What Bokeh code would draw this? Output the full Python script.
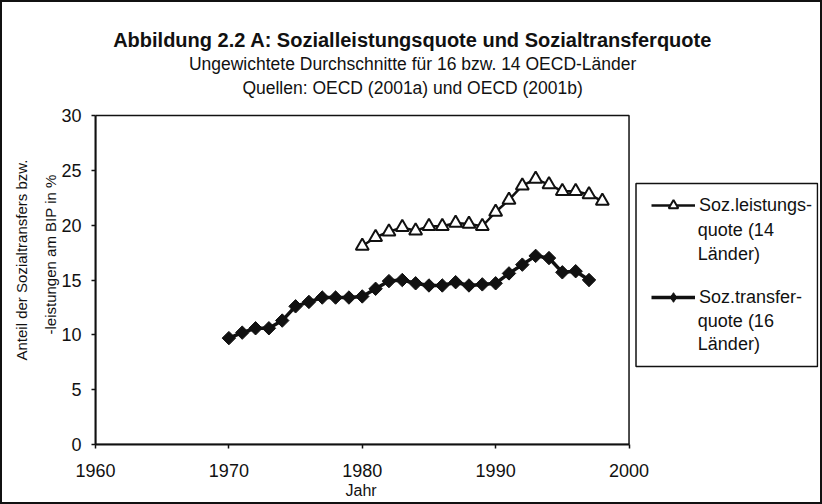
import math
from bokeh.plotting import figure
from bokeh.models import (Legend, LegendItem, Label, FixedTicker, Range1d,
                          BoxAnnotation, Title)
from bokeh.embed import file_html
from bokeh.resources import INLINE

# ---- data ----
years_leistung = list(range(1980, 1999))
leistungsquote = [18.1, 18.9, 19.4, 19.8, 19.5, 19.9, 19.9, 20.2, 20.1, 19.9,
                  21.2, 22.3, 23.6, 24.2, 23.7, 23.1, 23.1, 22.8, 22.2]
years_transfer = list(range(1970, 1998))
transferquote = [9.7, 10.2, 10.6, 10.6, 11.3, 12.6, 13.0, 13.4, 13.4, 13.4,
                 13.5, 14.2, 14.9, 15.0, 14.7, 14.5, 14.5, 14.8, 14.5, 14.6,
                 14.7, 15.6, 16.4, 17.2, 17.0, 15.7, 15.8, 15.0]
x_ticks = [1960, 1970, 1980, 1990, 2000]
y_ticks = [0, 5, 10, 15, 20, 25, 30]
x_min, x_max = 1960, 2000
y_min, y_max = 0, 30

title_text = "Abbildung 2.2 A: Sozialleistungsquote und Sozialtransferquote"
subtitle_1 = "Ungewichtete Durchschnitte für 16 bzw. 14 OECD-Länder"
subtitle_2 = "Quellen: OECD (2001a) und OECD (2001b)"
x_label = "Jahr"
y_label_lines = ["Anteil der Sozialtransfers bzw.", "-leistungen am BIP in %"]
legend_leistung = ["Soz.leistungs-", "quote (14", "Länder)"]
legend_transfer = ["Soz.transfer-", "quote  (16", "Länder)"]

FONT = "Liberation Sans"
INK = "#111111"

# ---- layout (canvas pixels) ----
W, H = 822, 504
PL, PR, PT, PB = 93, 628, 115, 444      # plot area (axes box)
FR, FT = 818, 4                         # frame extends right/up for legend & titles
px_per_x = (PR - PL) / (x_max - x_min)
px_per_y = (PB - PT) / (y_max - y_min)


def X(px):
    return x_min + (px - PL) / px_per_x


def Y(py):
    return y_min + (PB - py) / px_per_y


p = figure(width=W, height=H, output_backend="svg", toolbar_location=None,
           x_range=Range1d(x_min, X(FR)), y_range=Range1d(y_min, Y(FT)),
           min_border_left=PL, min_border_right=W - FR,
           min_border_top=FT, min_border_bottom=H - PB)
p.border_fill_alpha = 0
p.background_fill_color = "white"
p.stylesheets = [":host { box-shadow: inset 0 0 0 2px #111; background: white; }"]
p.grid.visible = False
p.outline_line_color = None

for ax in (p.xaxis[0], p.yaxis[0]):
    ax.axis_line_color = INK
    ax.axis_line_width = 2
    ax.major_tick_line_color = INK
    ax.major_tick_line_width = 1.5
    ax.major_tick_in = 0
    ax.major_tick_out = 4
    ax.minor_tick_line_color = None
    ax.major_label_text_font = FONT
    ax.major_label_text_font_size = "18px"
    ax.major_label_text_color = INK

p.xaxis.bounds = (x_min, x_max)
p.yaxis.bounds = (y_min, y_max)
p.xaxis.ticker = FixedTicker(ticks=x_ticks)
p.yaxis.ticker = FixedTicker(ticks=y_ticks)
p.xaxis.major_label_standoff = 15
p.yaxis.major_label_standoff = 10

# axis titles as side-panel titles so they can sit beside the 0-30 / 1960-2000 span
p.add_layout(Title(text=y_label_lines[1], align="left", offset=PB - 334,
                   vertical_align="middle",
                   text_font=FONT, text_font_size="15px", text_font_style="normal",
                   text_color=INK, standoff=-3), "left")
p.add_layout(Title(text=y_label_lines[0], align="left", offset=PB - 360,
                   vertical_align="middle",
                   text_font=FONT, text_font_size="15px", text_font_style="normal",
                   text_color=INK, standoff=23), "left")
p.add_layout(Title(text=x_label, align="left", offset=343 - PL,
                   text_font=FONT, text_font_size="16px", text_font_style="normal",
                   text_color=INK, standoff=0), "below")

# plot-area box (top and right edges of the axes rectangle)
p.add_layout(BoxAnnotation(left=x_min, right=x_max, bottom=y_min, top=y_max,
                           fill_alpha=0, line_color=INK, line_alpha=1,
                           line_width=1.5))

r1l = p.line(years_leistung, leistungsquote, line_color=INK, line_width=2.5)
r1m = p.scatter(years_leistung, leistungsquote, marker="triangle", size=13,
                fill_color="white", line_color=INK, line_width=2)
r2l = p.line(years_transfer, transferquote, line_color=INK, line_width=3.5)
r2m = p.scatter(years_transfer, transferquote, marker="square", size=9.5,
                angle=math.pi / 4, fill_color=INK, line_color=INK, line_width=1)
# legend key shape for the diamond series (a single NaN point: draws nothing)
r2k = p.scatter([float("nan")], [float("nan")], marker="diamond", size=14,
                fill_color=INK, line_color=INK, line_width=1)

# legend frame
p.add_layout(BoxAnnotation(left=X(635), right=X(817), top=Y(183), bottom=Y(366),
                           fill_alpha=0, line_color=INK, line_alpha=1,
                           line_width=1.5))

legend = Legend(items=[LegendItem(label=legend_leistung[0], renderers=[r1l, r1m]),
                       LegendItem(label=legend_transfer[0], renderers=[r2l, r2k])],
                location=(649 - PL, PB - 309))
legend.border_line_color = None
legend.background_fill_alpha = 0
legend.label_text_font = FONT
legend.label_text_font_size = "18px"
legend.label_text_color = INK
legend.glyph_width = 44
legend.glyph_height = 24
legend.label_standoff = 4
legend.spacing = 68
legend.padding = 0
legend.margin = 0
p.add_layout(legend)

# continuation lines of the legend labels
for txt, py in [(legend_leistung[1], 229), (legend_leistung[2], 253),
                (legend_transfer[1], 320), (legend_transfer[2], 343)]:
    p.add_layout(Label(x=X(697), y=Y(py), text=txt, text_align="left",
                       text_baseline="middle", text_font=FONT,
                       text_font_size="18px", text_color=INK))

# title lines, centred on the whole chart
for txt, py, size, style in [(title_text, 39, "20px", "bold"),
                             (subtitle_1, 63, "17.5px", "normal"),
                             (subtitle_2, 87, "17.5px", "normal")]:
    p.add_layout(Label(x=X(W / 2), y=Y(py), text=txt, text_align="center",
                       text_baseline="middle", text_font=FONT,
                       text_font_size=size, text_font_style=style,
                       text_color=INK))

open("out.html", "w").write(file_html(p, INLINE))
